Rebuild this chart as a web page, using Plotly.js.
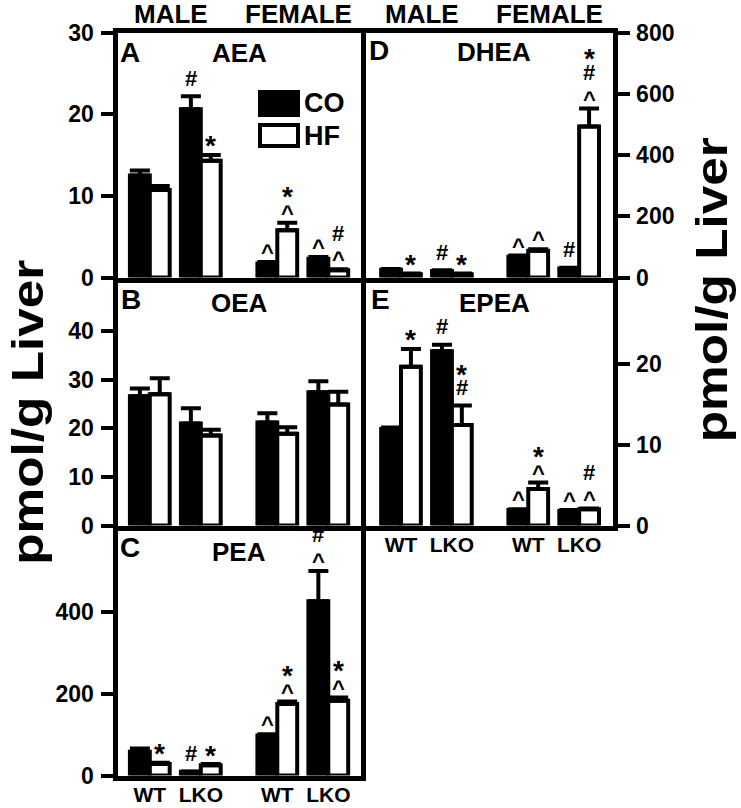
<!DOCTYPE html>
<html><head><meta charset="utf-8">
<script src="https://cdn.plot.ly/plotly-3.0.1.min.js"></script>
<style>html,body{margin:0;padding:0;background:#fff;overflow:hidden}</style>
</head><body><div id="chart" style="width:741px;height:808px"></div>
<script>
// ---------------- data ----------------
const sexes = ["MALE", "FEMALE"];
const genotypes = ["WT", "LKO", "WT", "LKO"];
const diets = ["CO", "HF"];

const aeaCO = [12.5, 20.6, 1.7, 2.3];
const aeaCOerr = [0.6, 1.6, 0.2, 0.2];
const aeaHF = [10.7, 14.3, 5.8, 0.9];
const aeaHFerr = [0.5, 0.7, 0.9, 0.1];
const aeaCOsig = ["", "#", "^", "^"];      // symbols listed bottom-to-top
const aeaHFsig = ["", "*", "^*", "^#"];
const aeaTicks = [0, 10, 20, 30];

const oeaCO = [26.6, 21.0, 21.2, 27.4];
const oeaCOerr = [1.6, 3.1, 1.9, 2.3];
const oeaHF = [27.0, 18.5, 18.9, 24.9];
const oeaHFerr = [3.3, 1.2, 1.3, 2.6];
const oeaCOsig = ["", "", "", ""];
const oeaHFsig = ["", "", "", ""];
const oeaTicks = [0, 10, 20, 30, 40];

const peaCO = [58, 9, 98, 427];
const peaCOerr = [8, 1, 3, 74];
const peaHF = [28, 25, 175, 183];
const peaHFerr = [3, 3, 6, 8];
const peaCOsig = ["", "#", "^", "^#"];
const peaHFsig = ["*", "*", "^*", "^*"];
const peaTicks = [0, 200, 400];

const dheaCO = [25, 21, 68, 29];
const dheaCOerr = [3, 3, 4, 3];
const dheaHF = [11, 11, 87, 493];
const dheaHFerr = [2, 2, 5, 59];
const dheaCOsig = ["", "#", "^", "#"];
const dheaHFsig = ["*", "*", "^", "^#*"];
const dheaTicks = [0, 200, 400, 600, 800];

const epeaCO = [11.9, 21.5, 1.9, 1.8];
const epeaCOerr = [0.2, 0.8, 0.1, 0.1];
const epeaHF = [19.6, 12.4, 4.5, 2.0];
const epeaHFerr = [2.2, 2.4, 0.8, 0.1];
const epeaCOsig = ["", "#", "^", "^"];
const epeaHFsig = ["*", "#*", "^*", "^#"];
const epeaTicks = [0, 10, 20];

const yTitle = "pmol/g Liver";

// ---------------- layout helpers ----------------
const FONT = "Liberation Sans, Arial, Helvetica, sans-serif";
const W = 741, H = 808;
const px = v => v / W;
const py = v => 1 - v / H;
const BARGAP = 0.22;
const halfOff = (1 - BARGAP) / 4;
const LW = 5;

// group positions: sex block * 2.5 + genotype index
const groupPos = genotypes.map((g, i) => Math.floor(i / 2) * 2.5 + (i % 2));
const sexCenter = sexes.map((s, j) => (groupPos[2 * j] + groupPos[2 * j + 1]) / 2);

const panels = [
  {name: "AEA", letter: "A", co: aeaCO, coErr: aeaCOerr, hf: aeaHF, hfErr: aeaHFerr, coSig: aeaCOsig, hfSig: aeaHFsig, ticks: aeaTicks, range: [0, 30], xa: "x", ya: "y", col: 0, row: 0},
  {name: "OEA", letter: "B", co: oeaCO, coErr: oeaCOerr, hf: oeaHF, hfErr: oeaHFerr, coSig: oeaCOsig, hfSig: oeaHFsig, ticks: oeaTicks, range: [0, 50], xa: "x2", ya: "y2", col: 0, row: 1},
  {name: "PEA", letter: "C", co: peaCO, coErr: peaCOerr, hf: peaHF, hfErr: peaHFerr, coSig: peaCOsig, hfSig: peaHFsig, ticks: peaTicks, range: [0, 600], xa: "x3", ya: "y3", col: 0, row: 2},
  {name: "DHEA", letter: "D", co: dheaCO, coErr: dheaCOerr, hf: dheaHF, hfErr: dheaHFerr, coSig: dheaCOsig, hfSig: dheaHFsig, ticks: dheaTicks, range: [0, 800], xa: "x4", ya: "y4", col: 1, row: 0},
  {name: "EPEA", letter: "E", co: epeaCO, coErr: epeaCOerr, hf: epeaHF, hfErr: epeaHFerr, coSig: epeaCOsig, hfSig: epeaHFsig, ticks: epeaTicks, range: [0, 30], xa: "x5", ya: "y5", col: 1, row: 1}
];

// pixel geometry of the boxes (line centres)
const colLines = [[115, 363], [363, 615]];
const rowLines = [[30, 280], [280, 528], [528, 778]];
const colGeom = [{a: 149.8, b: 51}, {a: 401, b: 50.9}];

const traces = [];
const annotations = [];
const layout = {
  width: W, height: H,
  margin: {l: 0, r: 0, t: 0, b: 0},
  paper_bgcolor: "white", plot_bgcolor: "white",
  showlegend: false,
  barmode: "group", bargap: BARGAP, bargroupgap: 0,
  font: {family: FONT, color: "black"},
  shapes: []
};

// significance glyph styling
const glyphSize = {"#": 22, "^": 22, "*": 28};
const glyphLift = {"#": 0, "^": 0.165, "*": 0.23};   // visual centre above text-box middle (em)
const glyphFirst = {"#": 16, "^": 11, "*": 13.5};   // px above cap top for first row
const ROW = 20;

panels.forEach((p, pi) => {
  const cl = colLines[p.col], rl = rowLines[p.row], g = colGeom[p.col];
  const d0 = cl[0] + LW / 2, d1 = cl[1] - LW / 2;
  const t0 = rl[0] + LW / 2, t1 = rl[1] - LW / 2;
  const xKey = "xaxis" + (pi === 0 ? "" : pi + 1);
  const yKey = "yaxis" + (pi === 0 ? "" : pi + 1);
  const bottomRow = (p.row === 2) || (p.col === 1 && p.row === 1);
  layout[xKey] = {
    domain: [px(d0), px(d1)],
    range: [(d0 - g.a) / g.b, (d1 - g.a) / g.b],
    anchor: p.ya, showline: true, mirror: true, linewidth: LW, linecolor: "black",
    showgrid: false, zeroline: false, ticks: "",
    tickvals: groupPos, ticktext: genotypes,
    showticklabels: bottomRow,
    tickfont: {family: FONT, size: 21, weight: "bold", color: "black"},
    ticklabelstandoff: -4,
    fixedrange: true
  };
  layout[yKey] = {
    domain: [py(t1), py(t0)],
    range: p.range, tickvals: p.ticks,
    anchor: p.xa, side: p.col === 0 ? "left" : "right",
    showline: true, mirror: true, linewidth: LW, linecolor: "black",
    ticks: "outside", ticklen: 12, tickwidth: 4, tickcolor: "black",
    showgrid: false, zeroline: false,
    tickfont: {family: FONT, size: 23, weight: "bold", color: "black"},
    ticklabelstandoff: 2,
    fixedrange: true
  };
  const series = [
    {diet: diets[0], vals: p.co, err: p.coErr, sig: p.coSig, fill: "black", sgn: -1},
    {diet: diets[1], vals: p.hf, err: p.hfErr, sig: p.hfSig, fill: "white", sgn: 1}
  ];
  series.forEach(s => {
    traces.push({
      type: "bar", name: s.diet, x: groupPos, y: s.vals,
      xaxis: p.xa, yaxis: p.ya,
      marker: {color: s.fill, line: {color: "black", width: 4}},
      error_y: {type: "data", symmetric: false, array: s.err, arrayminus: s.err.map(() => 0),
                color: "black", thickness: 4, width: 10},
      hoverinfo: "skip"
    });
    s.sig.forEach((str, i) => {
      let pos = 0;
      str.split("").forEach((ch, k) => {
        pos = k === 0 ? glyphFirst[ch] : pos + ROW + (ch === "#" ? 3 : 0);
        annotations.push({
          xref: p.xa, yref: p.ya,
          x: groupPos[i] + s.sgn * halfOff, y: s.vals[i] + s.err[i],
          text: ch, showarrow: false, yanchor: "middle", xanchor: "center",
          yshift: 2 + pos - glyphLift[ch] * glyphSize[ch],
          font: {family: FONT, size: glyphSize[ch], weight: "bold", color: "black"}
        });
      });
    });
  });
});

// panel letters and titles
const letterPos = [[118, 52], [119, 299], [118, 547], [367, 50], [369, 299]];
const titlePos = [[239, 53], [239, 303], [239, 552], [494, 52], [494, 303]];
panels.forEach((p, i) => {
  annotations.push({xref: "paper", yref: "paper", x: px(letterPos[i][0]), y: py(letterPos[i][1]),
    text: p.letter, showarrow: false, xanchor: "left", yanchor: "middle",
    font: {family: FONT, size: 28, weight: "bold", color: "black"}});
  annotations.push({xref: "paper", yref: "paper", x: px(titlePos[i][0]), y: py(titlePos[i][1]),
    text: p.name, showarrow: false, xanchor: "center", yanchor: "middle",
    font: {family: FONT, size: 26, weight: "bold", color: "black"}});
});

// MALE / FEMALE headers over both columns
["x", "x4"].forEach(xr => {
  sexes.forEach((s, j) => {
    annotations.push({xref: xr, yref: "paper", x: sexCenter[j] - 0.08, y: py(14),
      text: s, showarrow: false, xanchor: "center", yanchor: "middle",
      font: {family: FONT, size: 26, weight: "bold", color: "black"}});
  });
});

// y titles
[[27, 412], [710.5, 290]].forEach(pos => {
  annotations.push({xref: "paper", yref: "paper", x: px(pos[0]), y: py(pos[1]),
    text: yTitle, showarrow: false, textangle: -90, xanchor: "center", yanchor: "middle",
    font: {family: FONT, size: 45, weight: "bold", color: "black"}});
});

// legend (CO / HF) in panel A
const legendRects = [[260, 298, 92, 115, "black"], [260, 298, 125, 146, "white"]];
diets.forEach((d, i) => {
  const r = legendRects[i];
  layout.shapes.push({type: "rect", xref: "paper", yref: "paper",
    x0: px(r[0]), x1: px(r[1]), y0: py(r[3]), y1: py(r[2]),
    fillcolor: r[4], line: {color: "black", width: 4}});
  annotations.push({xref: "paper", yref: "paper", x: px(302), y: py((r[2] + r[3]) / 2),
    text: d, showarrow: false, xanchor: "left", yanchor: "middle",
    font: {family: FONT, size: 27, weight: "bold", color: "black"}});
});

layout.annotations = annotations;

Plotly.newPlot("chart", traces, layout, {staticPlot: true, displayModeBar: false}).then(() => {
  document.querySelectorAll("#chart text.annotation-text").forEach(t => {
    if (t.textContent === yTitle) {
      t.setAttribute("textLength", "305");
      t.setAttribute("lengthAdjust", "spacingAndGlyphs");
    }
  });
});
</script>
</body></html>
